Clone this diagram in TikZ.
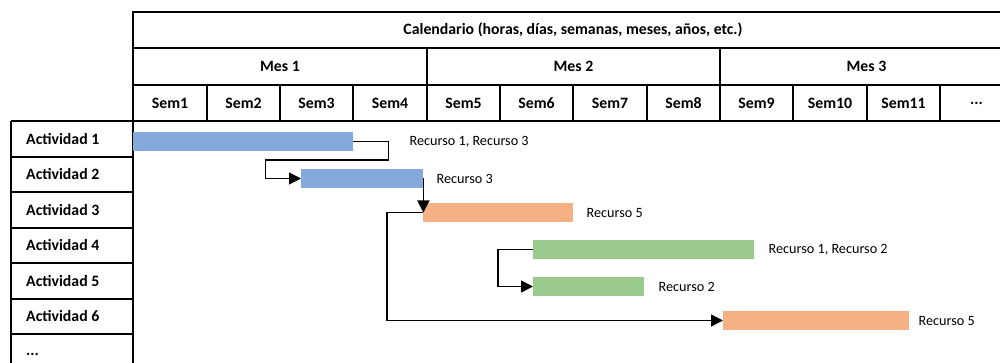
\documentclass[tikz,border=0pt]{standalone}
\usepackage{fontspec}
\setmainfont{Carlito}
\usetikzlibrary{arrows.meta}
\definecolor{barblue}{HTML}{84AADB}
\definecolor{barorange}{HTML}{F5B183}
\definecolor{bargreen}{HTML}{9BCB8C}
\begin{document}
\begin{tikzpicture}[x=1pt,y=-1pt,
  gridline/.style={line width=1.6pt,black},
  thinline/.style={line width=1.4pt,black},
  hdr/.style={font=\bfseries\fontsize{15.8}{17}\selectfont,inner sep=0},
  act/.style={font=\bfseries\fontsize{15.8}{17}\selectfont,inner sep=0,anchor=west},
  lab/.style={font=\fontsize{14.2}{16}\selectfont,inner sep=0,anchor=west},
  bar/.style={draw=none,inner sep=0,minimum height=19pt,anchor=west},
  conn/.style={line width=1.5pt,black},
  arr/.style={conn,-{Triangle[length=12pt,width=12pt]}}]
\useasboundingbox (0,0) rectangle (1000,363);
% header table
\draw[gridline] (1000,12) -- (133,12) -- (133,363);
\draw[gridline] (133,48) -- (1000,48);
\draw[gridline] (133,85) -- (1000,85);
\draw[gridline] (11,121) -- (1000,121);
\foreach \x in {427,720} \draw[gridline] (\x,48) -- (\x,121);
\foreach \x in {207,280,353,500,573,647,793,867,940} \draw[thinline] (\x,85) -- (\x,121);
% left column
\draw[gridline] (11,121) -- (11,363);
\foreach \y in {157,192,228,263,299,334} \draw[thinline] (11,\y) -- (133,\y);
% header texts
\node[hdr] (cal) at (573,30) {Calendario (horas, días, semanas, meses, años, etc.)};
\node[hdr] (m1) at (280,66.5) {Mes 1};
\node[hdr] (m2) at (573.5,66.5) {Mes 2};
\node[hdr] (m3) at (866.5,66.5) {Mes 3};
\foreach \c/\t [count=\i] in {170/Sem1,243.5/Sem2,316.5/Sem3,390/Sem4,463.5/Sem5,536.5/Sem6,610/Sem7,683.5/Sem8,756.5/Sem9,830/Sem10,903.5/Sem11}
  \node[hdr] (s\i) at (\c,103) {\t};
\node[hdr] (s12) at (976.5,103) {...};
% activities
\foreach \y/\t [count=\i] in {139/Actividad 1,174.5/Actividad 2,210/Actividad 3,245.5/Actividad 4,281/Actividad 5,316.5/Actividad 6}
  \node[act] (r\i) at (26,\y) {\t};
\node[act] (r7) at (26,354) {...};
% bars
\node[bar,fill=barblue,minimum width=220pt] (a1) at (133,141.5) {};
\node[bar,fill=barblue,minimum width=122pt] (a2) at (301,178.5) {};
\node[bar,fill=barorange,minimum width=150pt] (a3) at (423,212.5) {};
\node[bar,fill=bargreen,minimum width=221pt] (a4) at (533,249.5) {};
\node[bar,fill=bargreen,minimum width=111pt] (a5) at (533,286.5) {};
\node[bar,fill=barorange,minimum width=186pt] (a6) at (723,320.5) {};
% labels
\node[lab] (l1) at ([xshift=56pt]a1.east) {Recurso 1, Recurso 3};
\node[lab] (l2) at ([xshift=13pt]a2.east) {Recurso 3};
\node[lab] (l3) at ([xshift=13pt]a3.east) {Recurso 5};
\node[lab] (l4) at ([xshift=14pt]a4.east) {Recurso 1, Recurso 2};
\node[lab] (l5) at ([xshift=14pt]a5.east) {Recurso 2};
\node[lab] (l6) at ([xshift=9pt]a6.east) {Recurso 5};
% connectors
\draw[arr] (a1.east) -- ++(35,0) -- ++(0,18.5) -- ++(-123,0) |- (a2.west);
\draw[arr] (a2.east) -- (a2.east |- a3.west);
\draw[arr] (a3.west) -- ++(-36,0) |- (a6.west);
\draw[arr] (a4.west) -- ++(-35,0) |- (a5.west);
\end{tikzpicture}
\end{document}
